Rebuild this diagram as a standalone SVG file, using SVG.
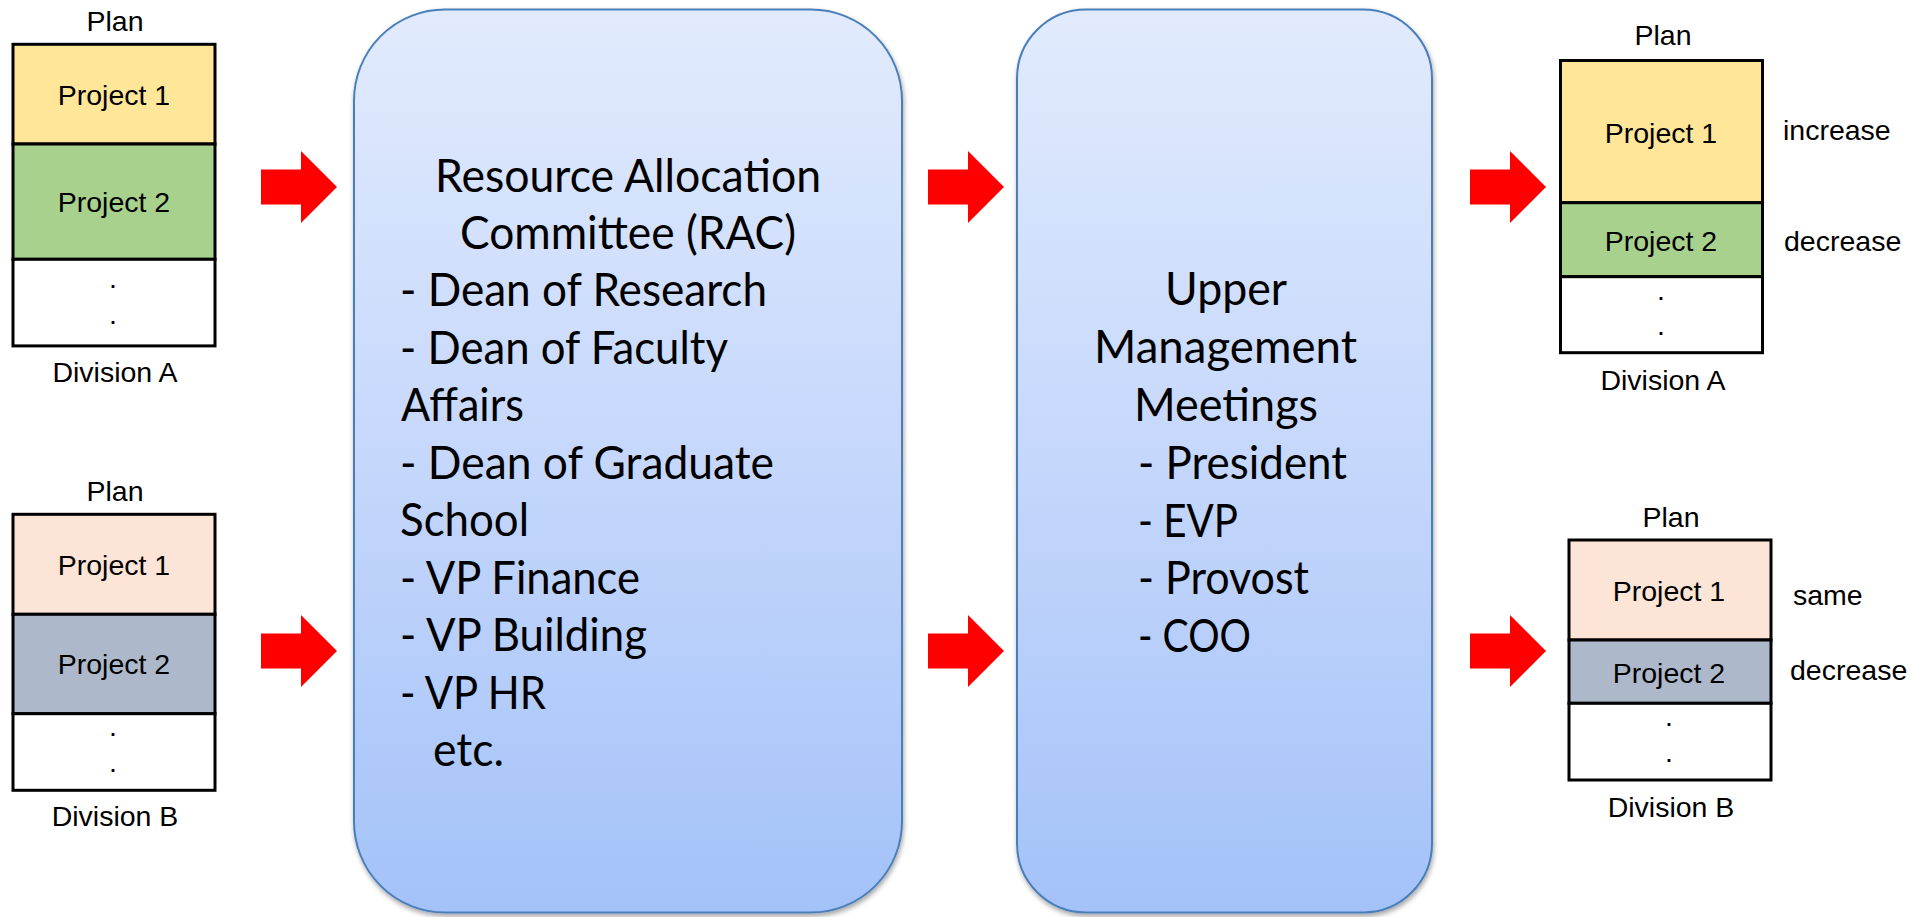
<svg xmlns="http://www.w3.org/2000/svg" xmlns:xlink="http://www.w3.org/1999/xlink" width="1912" height="917" viewBox="0 0 1912 917">
<defs>
<style>
.lbl{font-family:"Liberation Sans",Arial,sans-serif;font-size:28.5px;fill:#000;}
.mid{text-anchor:middle;}
.big{font-family:Lato,"Noto Sans",sans-serif;font-size:46px;fill:#000;}
.cell{stroke:#000;stroke-width:3;}
.panel{fill:url(#pg);stroke:#4A7EBB;stroke-width:2;filter:url(#sh);}
.arrow{fill:#FF0000;}
</style>
<linearGradient id="pg" x1="0" y1="0" x2="0" y2="1">
<stop offset="0" stop-color="#E2EBFD"/>
<stop offset="0.5" stop-color="#C5D7FB"/>
<stop offset="1" stop-color="#A3C2F8"/>
</linearGradient>
<filter id="sh" x="-5%" y="-5%" width="110%" height="110%">
<feDropShadow dx="1" dy="3" stdDeviation="2.5" flood-color="#000" flood-opacity="0.35"/>
</filter>
<polygon id="arr" points="0,-17.5 40,-17.5 40,-36 76,0 40,36 40,17.5 0,17.5"/>
</defs>
<rect width="1912" height="917" fill="#fff"/>

<g id="connectors">
<use xlink:href="#arr" class="arrow" transform="translate(261,187)"/>
<use xlink:href="#arr" class="arrow" transform="translate(261,651)"/>
<use xlink:href="#arr" class="arrow" transform="translate(928,187)"/>
<use xlink:href="#arr" class="arrow" transform="translate(928,651)"/>
<use xlink:href="#arr" class="arrow" transform="translate(1470,187)"/>
<use xlink:href="#arr" class="arrow" transform="translate(1470,651)"/>
</g>

<g id="plan-a-left">
<text class="lbl mid" x="115" y="31">Plan</text>
<rect class="cell" x="13" y="44.3" width="202" height="99.7" fill="#FFE699"/>
<rect class="cell" x="13" y="144" width="202" height="115.3" fill="#A9D18E"/>
<rect class="cell" x="13" y="259.3" width="202" height="86.6" fill="#FFFFFF"/>
<text class="lbl mid" x="114" y="105">Project 1</text>
<text class="lbl mid" x="114" y="212">Project 2</text>
<text class="lbl mid" x="113" y="288">.</text>
<text class="lbl mid" x="113" y="324">.</text>
<text class="lbl mid" x="115" y="382">Division A</text>
</g>

<g id="plan-b-left">
<text class="lbl mid" x="115" y="501">Plan</text>
<rect class="cell" x="13" y="514.3" width="202" height="100" fill="#FCE4D6"/>
<rect class="cell" x="13" y="614.3" width="202" height="99.4" fill="#ADB9CA"/>
<rect class="cell" x="13" y="713.7" width="202" height="76.6" fill="#FFFFFF"/>
<text class="lbl mid" x="114" y="575">Project 1</text>
<text class="lbl mid" x="114" y="674">Project 2</text>
<text class="lbl mid" x="113" y="736">.</text>
<text class="lbl mid" x="113" y="772">.</text>
<text class="lbl mid" x="115" y="826">Division B</text>
</g>

<g id="rac">
<rect class="panel" x="354" y="9.5" width="548" height="903" rx="91" ry="91"/>
<text class="big" x="435" y="192" textLength="386" lengthAdjust="spacingAndGlyphs">Resource Allocation</text>
<text class="big" x="460" y="249" textLength="336" lengthAdjust="spacingAndGlyphs">Committee (RAC)</text>
<text class="big" x="400" y="306" textLength="367" lengthAdjust="spacingAndGlyphs">- Dean of Research</text>
<text class="big" x="400" y="364" textLength="328" lengthAdjust="spacingAndGlyphs">- Dean of Faculty</text>
<text class="big" x="401" y="421" textLength="123" lengthAdjust="spacingAndGlyphs">Affairs</text>
<text class="big" x="400" y="479" textLength="374" lengthAdjust="spacingAndGlyphs">- Dean of Graduate</text>
<text class="big" x="400" y="536" textLength="129" lengthAdjust="spacingAndGlyphs">School</text>
<text class="big" x="400" y="594" textLength="240" lengthAdjust="spacingAndGlyphs">- VP Finance</text>
<text class="big" x="400" y="651" textLength="247" lengthAdjust="spacingAndGlyphs">- VP Building</text>
<text class="big" x="400" y="709" textLength="146" lengthAdjust="spacingAndGlyphs">- VP HR</text>
<text class="big" x="433" y="766" textLength="71" lengthAdjust="spacingAndGlyphs">etc.</text>
</g>

<g id="umm">
<rect class="panel" x="1017" y="9.5" width="415" height="903" rx="69" ry="69"/>
<text class="big" x="1165" y="305" textLength="122" lengthAdjust="spacingAndGlyphs">Upper</text>
<text class="big" x="1094" y="363" textLength="263" lengthAdjust="spacingAndGlyphs">Management</text>
<text class="big" x="1134" y="421" textLength="184" lengthAdjust="spacingAndGlyphs">Meetings</text>
<text class="big" x="1138" y="479" textLength="209" lengthAdjust="spacingAndGlyphs">- President</text>
<text class="big" x="1138" y="537" textLength="100" lengthAdjust="spacingAndGlyphs">- EVP</text>
<text class="big" x="1138" y="594" textLength="171" lengthAdjust="spacingAndGlyphs">- Provost</text>
<text class="big" x="1138" y="652" textLength="113" lengthAdjust="spacingAndGlyphs">- COO</text>
</g>

<g id="plan-a-right">
<text class="lbl mid" x="1663" y="45">Plan</text>
<rect class="cell" x="1560.5" y="60.5" width="202" height="142.2" fill="#FFE699"/>
<rect class="cell" x="1560.5" y="202.7" width="202" height="74" fill="#A9D18E"/>
<rect class="cell" x="1560.5" y="276.7" width="202" height="76" fill="#FFFFFF"/>
<text class="lbl mid" x="1661" y="143">Project 1</text>
<text class="lbl mid" x="1661" y="251">Project 2</text>
<text class="lbl mid" x="1661" y="300">.</text>
<text class="lbl mid" x="1661" y="335">.</text>
<text class="lbl mid" x="1663" y="390">Division A</text>
<text class="lbl" x="1783" y="140">increase</text>
<text class="lbl" x="1784" y="251">decrease</text>
</g>

<g id="plan-b-right">
<text class="lbl mid" x="1671" y="527">Plan</text>
<rect class="cell" x="1569" y="540" width="202" height="100" fill="#FCE4D6"/>
<rect class="cell" x="1569" y="640" width="202" height="63.3" fill="#ADB9CA"/>
<rect class="cell" x="1569" y="703.3" width="202" height="76.7" fill="#FFFFFF"/>
<text class="lbl mid" x="1669" y="601">Project 1</text>
<text class="lbl mid" x="1669" y="683">Project 2</text>
<text class="lbl mid" x="1669" y="726">.</text>
<text class="lbl mid" x="1669" y="762">.</text>
<text class="lbl mid" x="1671" y="817">Division B</text>
<text class="lbl" x="1793" y="605">same</text>
<text class="lbl" x="1790" y="680">decrease</text>
</g>
</svg>
